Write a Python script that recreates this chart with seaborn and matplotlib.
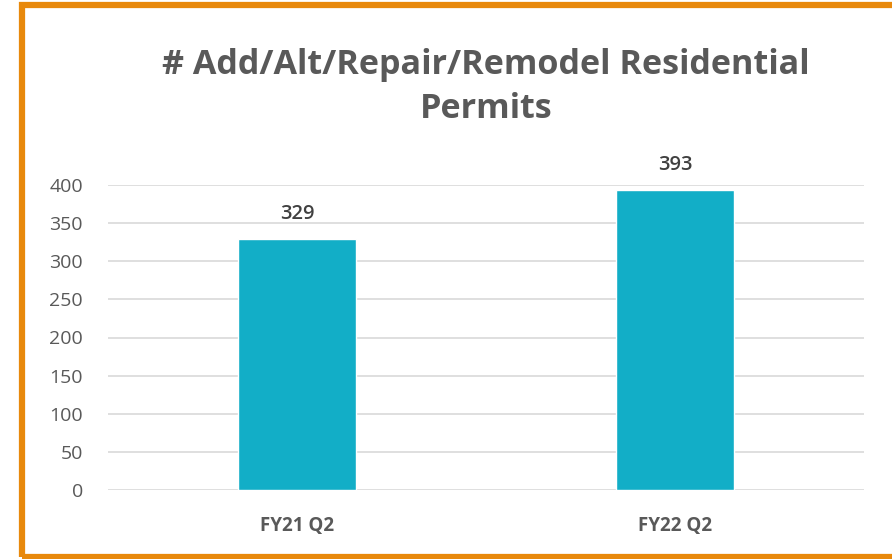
import matplotlib
matplotlib.use("Agg")
import matplotlib.pyplot as plt
import matplotlib.patches as mpatches
import seaborn as sns
import pandas as pd

# ── data ─────────────────────────────────────────────────────
categories = ["FY21 Q2", "FY22 Q2"]
permits = [329, 393]
y_ticks = [0, 50, 100, 150, 200, 250, 300, 350, 400]

df = pd.DataFrame({"quarter": categories, "permits": permits})

sns.set_theme(style="white")
plt.rcParams["font.family"] = ["Open Sans", "DejaVu Sans"]

fig = plt.figure(figsize=(8.92, 5.59), dpi=100)
ax = fig.add_axes([108/892, 1 - 490/559, (864 - 108)/892, (490 - 185)/559])

sns.barplot(data=df, x="quarter", y="permits", color="#12AEC7",
            width=0.31, saturation=1, ax=ax, zorder=3)

ax.set_ylim(0, 400)
ax.set_xlim(-0.5, 1.5)
ax.set_yticks(y_ticks)
ax.yaxis.grid(True, color="#D9D9D9", linewidth=1.2, zorder=0)
ax.set_axisbelow(True)
sns.despine(ax=ax, left=True, bottom=True, top=True, right=True)
ax.tick_params(axis="y", length=0, pad=18, labelsize=14, labelcolor="#595959")
ax.tick_params(axis="x", length=0, pad=19, labelsize=13.5, labelcolor="#595959")
for lbl in ax.get_xticklabels():
    lbl.set_fontweight("bold")
ax.set_xlabel("")
ax.set_ylabel("")

for i, v in enumerate(permits):
    ax.text(i, v + 20, f"{v}", ha="center", va="bottom", fontsize=14.5,
            fontweight="semibold", color="#404040", clip_on=False)

fig.text(486/892, 1 - 87/559, "# Add/Alt/Repair/Remodel Residential\nPermits",
         ha="center", va="center", fontsize=24.6, fontweight="bold",
         color="#595959", linespacing=1.37)

# orange frame (right edge cut off)
orange = "#E8890C"
fig.add_artist(mpatches.Rectangle((22/892, 2/559), 900/892, 552/559,
                                  transform=fig.transFigure, fill=False,
                                  edgecolor=orange, linewidth=4.5))

fig.savefig("out.png", dpi=100)
plt.close()
